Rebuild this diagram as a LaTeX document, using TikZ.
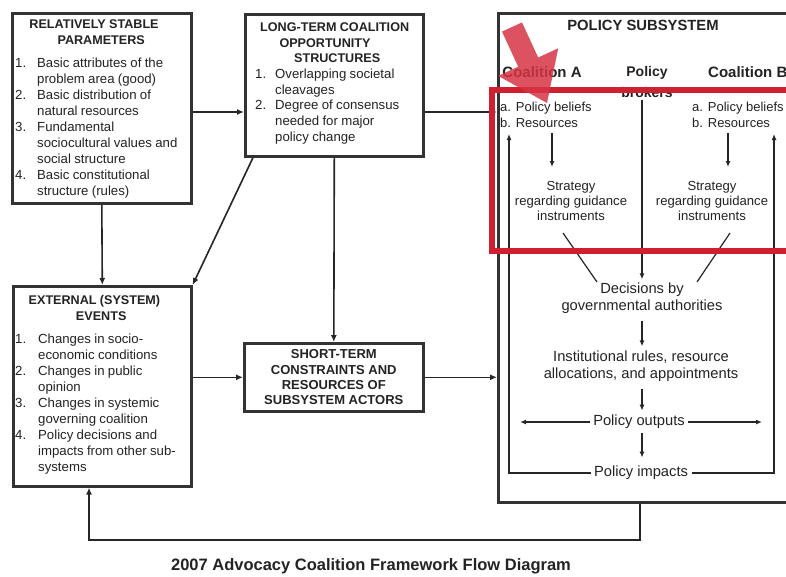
\documentclass[tikz,border=0pt]{standalone}
\usepackage{fontspec}
\setmainfont{Liberation Sans}
\usetikzlibrary{arrows.meta,calc}
\definecolor{hlred}{RGB}{208,32,48}
\definecolor{arred}{RGB}{214,52,70}
\definecolor{ink}{RGB}{35,35,35}
\newcommand\bodyfont{\fontsize{13.2}{16}\selectfont}
\newcommand\headfont{\bfseries\fontsize{12.6}{16}\selectfont}
\newcommand\litem[3][22pt]{\hangindent=#1\hangafter=1\noindent\makebox[#1][l]{#2}#3\par}
\begin{document}
\begin{tikzpicture}[x=1pt,y=-1pt,
  boxst/.style={draw=black!80, line width=2.6pt, anchor=north west, inner sep=0pt},
  conn/.style={draw=black!85, line width=1.6pt},
  arr/.style={conn, -{Latex[length=7pt,width=6pt]}},
  thinln/.style={draw=black!85, line width=1.2pt},
  thinarr/.style={thinln, -{Latex[length=6pt,width=5pt]}},
  boxtext/.style={anchor=north west, inner sep=0pt, text width=#1, align=left, text=ink},
  sublbl/.style={text=ink, font=\fontsize{14.7}{16.5}\selectfont, align=center},
  stratlbl/.style={text=ink, font=\fontsize{13.1}{15}\selectfont, align=center},
  belieflbl/.style={text=ink, font=\fontsize{13}{16}\selectfont, anchor=base west, inner sep=0pt},
  coallbl/.style={text=ink, font=\bfseries\fontsize{15}{17}\selectfont}
]
\useasboundingbox (0,0) rectangle (786,576);
\clip (0,0) rectangle (786,576);
\fill[white] (0,0) rectangle (786,576);

% helper coordinates
\coordinate (y112) at (0,112);
\coordinate (cl0) at (642,100);
\coordinate (dg1) at (563,233);
\coordinate (dg2) at (597,282);
\coordinate (dg3) at (730,233);
\coordinate (dg4) at (697,282);
\coordinate (baT) at (552,133);
\coordinate (baB) at (552,167);
\coordinate (bbT) at (728,133);
\coordinate (bbB) at (728,167);
\coordinate (la) at (509,134);
\coordinate (ra) at (774,134);
\coordinate (lx) at (520,0);
\coordinate (rx) at (762,0);
\coordinate (fb1) at (640,540);
\coordinate (fb2) at (89,540);

% boxes
\node[boxst, minimum width=179pt, minimum height=190pt] (rsp) at (11,12) {};
\node[boxst, minimum width=178pt, minimum height=142pt] (ltc) at (244,13) {};
\node[boxst, minimum width=178pt, minimum height=200pt] (ext) at (12,285) {};
\node[boxst, minimum width=179pt, minimum height=68pt, align=center, text=ink,
      font=\bfseries\fontsize{13}{15.3}\selectfont] (ste) at (243,342)
  {SHORT-TERM\\CONSTRAINTS AND\\RESOURCES OF\\SUBSYSTEM ACTORS};
\node[boxst, minimum width=303pt, minimum height=489pt] (pss) at (497,12) {};

% box texts
\node[boxtext=172pt] (rspt) at (15,17) {%
  {\centering\headfont\strut RELATIVELY STABLE\newline PARAMETERS\par}\vspace{7.5pt}
  \bodyfont
  \litem{1.}{Basic attributes of the\newline problem area (good)}
  \litem{2.}{Basic distribution of\newline natural resources}
  \litem{3.}{Fundamental\newline sociocultural values and\newline social structure}
  \litem{4.}{Basic constitutional\newline structure (rules)}};
\node[boxtext=164pt] (ltct) at (255,20.3) {%
  {\centering\bfseries\fontsize{12.6}{15.7}\selectfont\strut LONG-TERM COALITION\newline OPPORTUNITY\newline STRUCTURES\par}
  \fontsize{13.2}{15.7}\selectfont
  \litem[20pt]{1.}{Overlapping societal\newline cleavages}
  \litem[20pt]{2.}{Degree of consensus\newline needed for major\newline policy change}};
\node[boxtext=172pt] (extt) at (15,293.3) {%
  {\centering\headfont\strut EXTERNAL (SYSTEM)\newline EVENTS\par}\vspace{6.5pt}
  \bodyfont
  \litem[23pt]{1.}{Changes in socio-\newline economic conditions}
  \litem[23pt]{2.}{Changes in public\newline opinion}
  \litem[23pt]{3.}{Changes in systemic\newline governing coalition}
  \litem[23pt]{4.}{Policy decisions and\newline impacts from other sub-\newline systems}};

% connectors between boxes
\draw[arr] (rsp.east |- y112) -- (ltc.west |- y112);
\draw[arr] (ltc.east |- y112) -- (pss.west |- y112);
\draw[arr] (rsp.south) -- (ext.north);
\draw[arr] ($(ltc.south west)+(9,0)$) -- (ext.north east);
\draw[arr] (ltc.south) -- (ste.north);
\draw[arr] (ext.east |- ste.west) -- (ste.west);
\draw[arr] (ste.east) -- (pss.west |- ste.east);
\draw[arr] (pss.south -| fb1) -- (fb1) -- (fb2) -- (ext.south -| fb2);

% policy subsystem content
\node[text=ink, font=\bfseries\fontsize{14.8}{17}\selectfont] (pst) at (643,25) {POLICY SUBSYSTEM};
\node[coallbl] (coA) at (542,72) {Coalition A};
\node[coallbl, anchor=west, inner sep=0pt] (coB) at (708,72) {Coalition B};
\node[text=ink, font=\bfseries\fontsize{14}{16}\selectfont] (brk1) at (647,73) {Policy};
\node[text=ink, font=\bfseries\fontsize{14}{16}\selectfont] (brk2) at (647,92) {brokers};

\node[belieflbl] (belA) at (500,111.5) {a. Policy beliefs};
\node[belieflbl] (resA) at (500,127.5) {b. Resources};
\node[belieflbl] (belB) at (692,111.5) {a. Policy beliefs};
\node[belieflbl] (resB) at (692,127.5) {b. Resources};

\node[stratlbl] (strA) at (571,201) {Strategy\\regarding guidance\\instruments};
\node[stratlbl] (strB) at (712,201) {Strategy\\regarding guidance\\instruments};

\node[sublbl] (dec) at (642,298) {Decisions by\\governmental authorities};
\node[sublbl] (inst) at (641,366) {Institutional rules, resource\\allocations, and appointments};
\node[sublbl] (outl) at (639,422) {Policy outputs};
\node[sublbl] (impl) at (641,473) {Policy impacts};

\draw[thinarr] (baT) -- (baB);
\draw[thinarr] (bbT) -- (bbB);
\draw[thinln] (dg1) -- (dg2);
\draw[thinln] (dg3) -- (dg4);
\draw[thinarr] (cl0) -- (dec.north -| cl0);
\draw[thinarr, shorten <=4pt, shorten >=1pt] (dec.south -| cl0) -- (inst.north -| cl0);
\draw[thinarr, shorten <=4pt, shorten >=1pt] (inst.south -| cl0) -- (outl.north -| cl0);
\draw[thinarr, shorten <=1pt, shorten >=5pt] (outl.south -| cl0) -- (impl.north -| cl0);
\draw[thinarr] (outl.west) -- (outl.west -| lx);
\draw[thinarr] (outl.east) -- (outl.east -| rx);
\draw[thinarr] (impl.west) -| (la);
\draw[thinarr] (impl.east) -| (ra);

% red highlight
\draw[hlred, line width=6pt] (492,90) rectangle (800,251);
\fill[arred, opacity=0.85] (522,22.4) -- (538.2,57.5) -- (558.2,48.3) -- (547,103)
  -- (498.2,75.9) -- (518.2,66.7) -- (502,31.6) -- cycle;

% caption
\node[text=ink, font=\bfseries\fontsize{16.5}{18}\selectfont] (cap) at (371,566)
  {2007 Advocacy Coalition Framework Flow Diagram};
\end{tikzpicture}
\end{document}
